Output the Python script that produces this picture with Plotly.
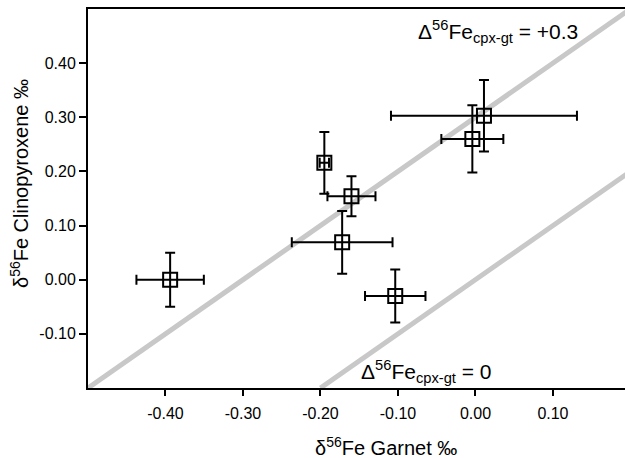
import plotly.graph_objects as go

# Data (delta56Fe, permil)
garnet = [-0.394, -0.195, -0.160, -0.172, -0.1035, 0.011, -0.004]
garnet_err = [0.0435, 0.006, 0.031, 0.065, 0.039, 0.120, 0.040]
cpx = [0.000, 0.216, 0.154, 0.069, -0.030, 0.303, 0.260]
cpx_err = [0.050, 0.057, 0.037, 0.058, 0.049, 0.066, 0.062]

# Reference lines: Delta56Fe(cpx-gt) = +0.3 and = 0
line03_x = [-0.5, 0.25]
line03_y = [-0.2, 0.55]
line0_x = [-0.2, 0.25]
line0_y = [-0.2, 0.25]

xtick_vals = [-0.4, -0.3, -0.2, -0.1, 0.0, 0.1]
xtick_text = ["-0.40", "-0.30", "-0.20", "-0.10", "0.00", "0.10"]
ytick_vals = [-0.1, 0.0, 0.1, 0.2, 0.3, 0.4]
ytick_text = ["-0.10", "0.00", "0.10", "0.20", "0.30", "0.40"]

FONT = "Arial, Liberation Sans, sans-serif"
GREY = "#c8c8c8"

fig = go.Figure()
fig.add_trace(go.Scatter(x=line03_x, y=line03_y, mode="lines",
                         line=dict(color=GREY, width=5), hoverinfo="skip"))
fig.add_trace(go.Scatter(x=line0_x, y=line0_y, mode="lines",
                         line=dict(color=GREY, width=5), hoverinfo="skip"))
fig.add_trace(go.Scatter(
    x=garnet, y=cpx, mode="markers",
    marker=dict(symbol="square-open", size=14, color="black",
                line=dict(width=2, color="black")),
    error_x=dict(type="data", array=garnet_err, color="black", thickness=2, width=5),
    error_y=dict(type="data", array=cpx_err, color="black", thickness=2, width=5),
))

fig.update_layout(
    width=625, height=458,
    margin=dict(l=88, r=0, t=9, b=70),
    paper_bgcolor="white", plot_bgcolor="white",
    showlegend=False,
    font=dict(family=FONT, color="black", size=16),
    xaxis=dict(range=[-0.5, 0.193], tickvals=xtick_vals, ticktext=xtick_text,
               showgrid=False, zeroline=False, showline=True, linecolor="black",
               linewidth=2, mirror=True, ticks="outside", ticklen=6, tickwidth=2,
               ticklabelstandoff=4,
               tickcolor="black", tickfont=dict(size=16, family=FONT)),
    yaxis=dict(range=[-0.2, 0.5], tickvals=ytick_vals, ticktext=ytick_text,
               showgrid=False, zeroline=False, showline=True, linecolor="black",
               linewidth=2, ticks="outside", ticklen=7, tickwidth=2,
               tickcolor="black", tickfont=dict(size=16, family=FONT)),
    annotations=[
        dict(text="δ<sup>56</sup>Fe Garnet ‰", xref="paper", yref="paper",
             x=(386 - 88) / 537, y=(388 - 446) / 379, xanchor="center", yanchor="middle",
             showarrow=False, font=dict(size=20, family=FONT)),
        dict(text="δ<sup>56</sup>Fe Clinopyroxene ‰", xref="paper", yref="paper",
             x=(20 - 88) / 537, y=(388 - 184) / 379, xanchor="center", yanchor="middle",
             textangle=-90, showarrow=False, font=dict(size=20, family=FONT)),
        dict(text="Δ<sup>56</sup>Fe<sub>cpx-gt</sub> = +0.3", xref="paper", yref="paper",
             x=(498 - 88) / 537, y=(388 - 32) / 379, xanchor="center", yanchor="middle",
             showarrow=False, font=dict(size=21, family=FONT)),
        dict(text="Δ<sup>56</sup>Fe<sub>cpx-gt</sub> = 0", xref="paper", yref="paper",
             x=(426 - 88) / 537, y=(388 - 371) / 379, xanchor="center", yanchor="middle",
             showarrow=False, font=dict(size=21, family=FONT)),
    ],
)

fig.write_html("out.html")
